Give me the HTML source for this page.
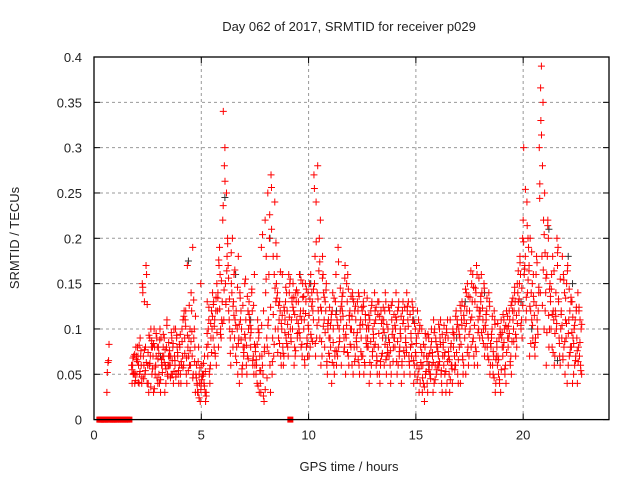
<!DOCTYPE html>
<html><head><meta charset="utf-8"><style>
body{margin:0;background:#fff;}
svg text{font-family:"Liberation Sans",sans-serif;font-size:13px;fill:#222;}
</style></head><body>
<svg id="chart" width="640" height="480" xmlns="http://www.w3.org/2000/svg">
<rect width="640" height="480" fill="#fff"/>
<text x="349" y="31" text-anchor="middle">Day 062 of 2017, SRMTID for receiver p029</text>
<text x="349" y="471" text-anchor="middle">GPS time / hours</text>
<text transform="translate(19,238) rotate(-90)" text-anchor="middle">SRMTID / TECUs</text>
<g id="grid"></g><g id="pts"></g><g id="axes"></g>
</svg>
<script>
const xTicks=[0,5,10,15,20];
const yTicks=[0,0.05,0.1,0.15,0.2,0.25,0.3,0.35,0.4];
const yTickLabels=["0","0.05","0.1","0.15","0.2","0.25","0.3","0.35","0.4"];
const binStart=1.75, binWidth=0.25;
// values in hundredths of TECU per 0.25-hour bin
const binValues=[
[6,5,7,4,8,5,6,7,4,5],[5,7,4,8,6,5,7,4,9,6],[15,17,13,14,16,5,7,4,8,6],[6,8,9,4,5,7,3,8,10,6],
[7,9,5,3,8,6,10,4,7,8],[8,6,3,5,7,9,4,8,6,10],[7,5,4,9,6,8,3,7,11,6],[6,8,5,7,4,9,6,10,5,7],
[7,5,9,6,4,8,10,6,7,5],[8,6,10,5,12,7,4,9,11,6],[11,9,17,12,6,8,5,10,7,4],[6,10,19,14,8,5,12,3,9,7],
[5,4,3,6,2,8,4,15,5,3],[4,3,5,6,2,4,5,3,7,5],[8,6,11,13,9,5,7,12,4,10],[10,12,8,14,6,11,9,15,7,13],
[12,9,19,14,11,16,8,13,10,17],[22,25,30,34,18,15,11,20,13,28],[17,14,9,12,20,6,11,8,15,10],[13,10,7,16,5,12,9,18,8,11],
[9,6,12,4,8,10,14,7,5,11],[8,12,6,15,10,5,9,13,7,11],[11,7,14,9,5,12,8,16,6,10],[6,9,4,8,3,11,5,7,10,6],
[4,2,6,3,8,5,19,22,12,7],[14,20,25,18,6,11,9,3,16,8],[27,24,18,21,10,7,5,13,16,9],[15,12,9,18,7,11,14,6,13,10],
[10,13,7,16,9,12,8,14,11,6],[12,9,14,8,11,15,7,13,10,16],[10,13,8,15,11,7,12,9,14,6],[14,11,9,13,7,12,10,15,8,16],
[12,9,15,10,7,13,11,14,8,6],[10,13,16,7,12,9,15,11,14,8],[27,28,24,15,12,9,18,11,14,7],[20,16,12,9,14,7,22,11,18,6],
[8,11,6,13,9,5,12,7,10,15],[9,6,12,8,5,14,11,7,10,4],[13,10,7,16,9,19,6,12,8,11],[11,8,14,6,17,10,13,5,9,12],
[9,12,7,15,10,6,13,8,11,16],[10,7,13,6,11,8,14,9,12,5],[8,11,6,13,9,5,12,7,10,14],[12,9,14,7,10,6,13,8,11,5],
[9,6,11,8,13,5,10,7,12,4],[10,7,12,9,5,11,8,13,6,14],[8,11,6,13,9,12,5,10,7,4],[11,8,13,6,10,5,12,9,7,14],
[7,10,5,12,8,11,6,9,13,4],[9,6,11,8,13,5,10,7,12,14],[8,11,6,10,5,12,9,7,13,4],[10,7,12,9,6,11,8,5,13,14],
[8,6,11,9,5,12,7,10,4,13],[7,10,5,9,4,11,6,8,3,12],[6,8,4,10,5,7,3,9,2,6],[7,5,9,4,8,6,3,10,5,7],
[6,9,4,7,5,10,3,8,6,11],[8,5,10,6,4,9,7,3,11,6],[7,10,5,8,4,9,6,11,3,7],[9,6,11,7,4,8,5,10,6,3],
[8,11,6,9,5,12,7,4,10,6],[10,7,12,8,5,11,9,6,13,4],[11,8,14,9,6,12,10,7,15,5],[12,9,15,10,7,13,11,6,16,8],
[13,10,16,8,12,6,14,9,11,17],[12,15,9,13,7,11,16,8,10,14],[10,13,7,11,5,9,12,6,14,8],[8,11,5,9,3,7,10,4,12,6],
[7,10,5,8,3,9,6,11,4,7],[9,6,11,8,4,10,7,12,5,8],[10,7,12,9,5,11,8,13,6,9],[12,9,14,11,8,13,10,15,7,12],
[14,11,18,13,9,16,12,20,10,15],[22,24,18,30,14,11,16,20,12,17],[19,15,12,17,9,14,7,16,11,20],[13,10,16,8,12,18,7,14,11,9],
[30,35,39,26,22,18,14,10,28,33],[25,20,16,12,8,18,14,10,22,6],[15,11,8,13,6,18,10,7,12,16],[12,9,17,14,7,19,10,6,13,20],
[10,14,7,12,5,16,9,11,8,18],[9,12,6,15,8,11,4,13,7,17],[8,11,5,13,7,10,4,12,6,9],[9,6,12,4,10,7,14,5,11,8]
];
// second pass of readings, same bins, finer values
const binValuesB=[
[5.5,6.6,4.3,7.2,5.1,6.8],[6.4,4.7,7.6,5.3,8.2,4.1],[14.6,12.7,6.3,5.4,7.7,4.5],[7.4,5.6,8.7,3.6,6.2,9.3],
[8.4,6.7,4.6,9.5,5.8,3.4],[7.3,9.4,5.2,6.6,4.4,8.8],[6.3,8.5,4.8,10.4,5.6,7.7],[7.6,5.3,8.4,6.5,9.6,4.6],
[6.5,8.3,5.4,7.4,9.3,4.7],[9.4,7.3,11.4,5.7,8.6,6.4],[10.3,7.6,12.6,5.4,9.3,6.8],[8.6,11.4,6.4,13.2,4.6,9.7],
[4.6,3.3,5.7,2.4,6.4,3.8],[4.4,2.6,5.3,3.7,6.2,4.8],[9.5,7.4,10.6,5.6,12.4,8.3],[11.4,9.6,13.5,7.3,10.3,12.7],
[13.4,10.6,15.3,9.4,12.2,17.6],[23.6,19.4,16.4,12.7,26.3,14.3],[15.6,12.5,9.7,18.4,7.3,13.3],[11.5,8.4,14.6,6.3,10.4,16.5],
[10.5,7.4,12.6,5.6,8.8,13.4],[9.4,11.6,6.7,13.6,8.2,15.5],[10.4,8.3,12.6,6.5,14.4,9.6],[7.5,5.4,9.6,3.7,8.3,6.6],
[5.4,3.3,7.5,2.6,20.4,10.4],[15.5,12.4,22.6,7.3,10.4,4.6],[25.6,19.5,14.5,8.3,11.6,6.4],[13.4,10.6,16.3,8.4,12.6,7.4],
[11.5,8.4,14.6,9.6,12.4,7.3],[10.5,13.4,8.6,15.5,11.3,9.4],[12.4,9.5,14.3,7.6,11.6,13.5],[10.6,13.5,8.3,15.4,11.4,9.6],
[13.6,10.4,8.4,14.4,11.7,6.6],[11.5,14.4,8.6,12.5,9.4,13.3],[25.5,16.4,13.3,10.4,19.6,8.4],[17.4,13.5,10.3,15.6,8.6,12.4],
[9.6,12.4,7.3,10.6,6.4,14.3],[10.4,7.6,13.4,8.5,6.3,11.6],[11.6,14.5,8.6,17.4,10.4,7.5],[12.5,9.4,15.6,7.5,11.4,13.6],
[10.4,13.6,8.3,11.5,14.4,7.4],[11.4,8.6,12.5,6.4,9.6,13.3],[9.6,12.4,7.5,10.4,13.6,6.6],[10.5,13.4,8.4,11.6,6.3,12.5],
[10.4,7.5,12.6,8.6,6.3,11.5],[9.4,11.6,6.5,12.4,8.3,10.6],[9.5,12.4,7.3,10.6,6.4,11.4],[9.6,12.4,7.4,10.5,6.6,8.3],
[8.5,11.6,6.4,9.4,12.6,7.6],[10.4,7.5,12.4,8.6,6.4,11.3],[9.5,12.4,7.6,10.6,6.4,11.4],[8.5,11.6,6.4,10.3,12.5,7.4],
[9.5,7.4,10.6,6.5,12.4,8.3],[8.4,6.3,10.4,5.6,9.5,4.4],[7.4,5.3,9.5,3.6,8.3,4.6],[6.4,8.6,4.5,7.3,5.5,9.4],
[7.4,5.5,8.6,4.4,9.6,6.3],[7.5,9.4,5.4,8.3,6.4,10.5],[8.5,6.4,9.6,5.3,7.4,10.4],[7.5,9.6,5.6,8.4,4.4,6.6],
[9.4,6.6,10.5,7.4,11.4,5.5],[9.4,11.5,6.6,10.4,8.3,12.6],[12.5,9.4,13.6,7.4,10.6,14.4],[13.5,10.4,14.6,8.6,11.3,16.4],
[14.5,11.4,15.6,9.6,12.4,7.5],[13.6,10.4,14.5,8.4,12.3,9.6],[11.6,8.4,12.5,6.6,9.4,13.4],[9.4,6.6,10.5,4.6,7.5,11.4],
[8.6,5.5,9.4,4.4,6.6,10.6],[9.6,7.4,10.4,5.6,8.5,11.6],[11.4,8.6,12.6,6.4,9.5,10.3],[13.4,10.6,11.5,9.4,14.6,8.6],
[16.4,12.6,14.5,10.4,17.3,13.3],[19.6,15.4,21.4,13.5,25.4,16.6],[16.4,13.6,10.4,18.5,8.4,12.5],[11.5,14.6,9.4,17.3,12.6,8.5],
[24.4,20.4,16.5,12.6,31.4,36.6],[18.4,14.4,11.5,21.4,9.6,15.6],[13.6,9.5,16.4,7.4,11.6,14.4],[11.4,15.5,8.4,13.3,18.4,10.6],
[11.6,13.4,8.6,15.4,6.6,10.4],[10.6,13.5,7.4,14.4,9.5,16.4],[9.6,12.4,6.5,10.4,8.4,11.3],[7.6,10.5,5.4,8.5,12.4,6.4]
];
const earlyT=[0.6,0.62,0.65,0.68,0.7];
const earlyV=[0.03,0.052,0.063,0.065,0.083];
const zeroT=[0.25,0.3,0.35,0.45,0.5,0.55,0.65,0.75,0.85,0.9,0.95,1.05,1.15,1.25,1.35,1.45,1.55,1.65,9.15];
const darkT=[4.4,6.1,6.6,8.2,9.6,10.1,11.3,12.8,13.6,14.9,17.3,18.2,19.9,20.4,21.2,21.6,22.1,22.3,3.1,15.6,16.9,7.3];
const darkV=[0.175,0.245,0.16,0.2,0.16,0.15,0.12,0.1,0.09,0.11,0.13,0.14,0.13,0.1,0.21,0.065,0.18,0.15,0.07,0.06,0.09,0.11];

const X0=94,X1=609,Y0=419.6,Y1=57,XMAX=24,YMAX=0.4;
const sx=v=>X0+(X1-X0)*v/XMAX, sy=v=>Y0-(Y0-Y1)*v/YMAX;
const NS="http://www.w3.org/2000/svg";
const grid=document.getElementById('grid'),pts=document.getElementById('pts'),axes=document.getElementById('axes');
function mk(tag,attrs,parent){const e=document.createElementNS(NS,tag);for(const k in attrs)e.setAttribute(k,attrs[k]);parent.appendChild(e);return e;}
xTicks.forEach((t,i)=>{
  const x=sx(t);
  if(t>0){const g=mk('line',{x1:x,y1:Y1,x2:x,y2:Y0,stroke:'#999','stroke-dasharray':'3,3'},grid);
  
  }
  mk('line',{x1:x,y1:Y0,x2:x,y2:Y0-6,stroke:'#000'},axes);
  mk('line',{x1:x,y1:Y1,x2:x,y2:Y1+6,stroke:'#000'},axes);
  const tx=mk('text',{x:x,y:Y0+20,'text-anchor':'middle'},axes);tx.textContent=String(t);
  
  
});
yTicks.forEach((t,i)=>{
  const y=sy(t);
  if(t>0&&t<YMAX){const g=mk('line',{x1:X0,y1:y,x2:X1,y2:y,stroke:'#999','stroke-dasharray':'3,3'},grid);
  
  }
  mk('line',{x1:X0,y1:y,x2:X0+6,y2:y,stroke:'#000'},axes);
  mk('line',{x1:X1,y1:y,x2:X1-6,y2:y,stroke:'#000'},axes);
  const tx=mk('text',{x:X0-12,y:y+5,'text-anchor':'end'},axes);tx.textContent=yTickLabels[i];
  
  
});
const fr=mk('rect',{x:X0,y:Y1,width:X1-X0,height:Y0-Y1,fill:'none',stroke:'#000','stroke-width':1.3},axes);


function plus(t,v,col,w){
  const x=sx(t),y=sy(v);
  const p=mk('path',{d:`M${x-3.5},${y}H${x+3.5}M${x},${y-3.5}V${y+3.5}`,stroke:col,'stroke-width':w||1,fill:'none'},pts);
  
  
}
darkT.forEach((t,i)=>plus(t,darkV[i],'#333'));
binValues.forEach((vals,b)=>{
  vals.forEach((v,j)=>{
    const t=binStart+b*binWidth+binWidth*(j*7%10)/10;
    plus(t,v/100,'#f00');
  });
});
binValuesB.forEach((vals,b)=>{
  vals.forEach((v,j)=>{
    const t=binStart+b*binWidth+binWidth*(j*5%6+0.5)/6;
    plus(t,v/100,'#f00');
  });
});
earlyT.forEach((t,i)=>plus(t,earlyV[i],'#f00'));
zeroT.forEach(t=>{
  const x=sx(t),y=sy(0);
  const r=mk('rect',{x:x-3,y:y-3,width:6,height:6,fill:'#f00'},pts);
  
  
});
</script>
</body></html>
